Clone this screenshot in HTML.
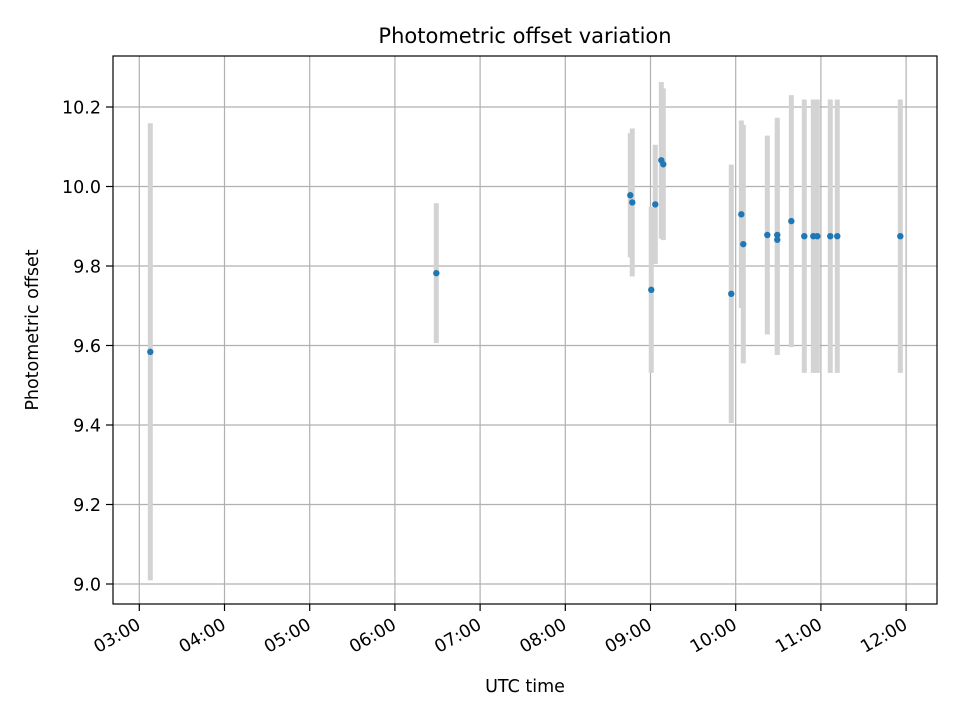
<!DOCTYPE html>
<html><head><meta charset="utf-8"><style>
body{margin:0;background:#fff}
svg{display:block;font-family:"DejaVu Sans","Liberation Sans",sans-serif}
</style></head><body>
<svg id="chart" width="960" height="720" viewBox="0 0 960 720">
<rect width="960" height="720" fill="#fff"/>
<text x="525" y="43" text-anchor="middle" font-size="21">Photometric offset variation</text>
<text x="525" y="692" text-anchor="middle" font-size="17.5">UTC time</text>
<text transform="translate(38,330) rotate(-90)" text-anchor="middle" font-size="17.5">Photometric offset</text>
<g id="grid"></g><g id="bars"></g><g id="dots"></g><g id="axes"></g>
</svg>
<script>
const times = [3.129,6.486,8.763,8.786,9.009,9.056,9.127,9.150,9.948,10.066,10.089,10.371,10.488,10.488,10.653,10.805,10.911,10.958,11.110,11.192,11.932];
const values = [9.584,9.782,9.978,9.960,9.740,9.955,10.066,10.056,9.730,9.930,9.855,9.878,9.878,9.866,9.913,9.875,9.875,9.875,9.875,9.875,9.875];
const errors = [0.575,0.176,0.156,0.186,0.209,0.150,0.197,0.191,0.325,0.236,0.300,0.250,0.295,0.290,0.317,0.344,0.344,0.344,0.344,0.344,0.344];
const xTicks = [3,4,5,6,7,8,9,10,11,12];
const xTickLabels = ["03:00","04:00","05:00","06:00","07:00","08:00","09:00","10:00","11:00","12:00"];
const yTicks = [9.0,9.2,9.4,9.6,9.8,10.0,10.2];
const yTickLabels = ["9.0","9.2","9.4","9.6","9.8","10.0","10.2"];

const L=113,R=937,T=56,B=604;
const xs=h=>139.3+(h-3)*85.2;
const ys=v=>584-(v-9.0)*397.5;
const NS="http://www.w3.org/2000/svg";
function mk(tag,attrs,parent,txt){const e=document.createElementNS(NS,tag);for(const k in attrs)e.setAttribute(k,attrs[k]);if(txt!==undefined)e.textContent=txt;parent.appendChild(e);return e;}
const grid=document.getElementById('grid'),bars=document.getElementById('bars'),dots=document.getElementById('dots'),axes=document.getElementById('axes');
xTicks.forEach((t,i)=>{
  const x=xs(t);
  const g=mk('line',{x1:x,x2:x,y1:T,y2:B,stroke:'#b0b0b0','stroke-width':1.2},grid);
  
  
  const tk=mk('line',{x1:x,x2:x,y1:B,y2:B+7,stroke:'#000','stroke-width':1.2},axes);
  
  
  const lb=mk('text',{transform:`translate(${x-5},615) rotate(-30)`,'text-anchor':'end',y:15,'font-size':17.5},axes,xTickLabels[i]);
  
  
});
yTicks.forEach((t,i)=>{
  const y=ys(t);
  const g=mk('line',{x1:L,x2:R,y1:y,y2:y,stroke:'#b0b0b0','stroke-width':1.2},grid);
  
  
  const tk=mk('line',{x1:L-7,x2:L,y1:y,y2:y,stroke:'#000','stroke-width':1.2},axes);
  
  
  const lb=mk('text',{x:L-12,y:y+6.5,'text-anchor':'end','font-size':17.5},axes,yTickLabels[i]);
  
  
});
times.forEach((t,i)=>{
  const x=xs(t);
  const b=mk('line',{x1:x,x2:x,y1:ys(values[i]+errors[i]),y2:ys(values[i]-errors[i]),stroke:'#d3d3d3','stroke-width':5},bars);
  
  
});
times.forEach((t,i)=>{
  const c=mk('circle',{cx:xs(t),cy:ys(values[i]),r:3.2,fill:'#1f77b4'},dots);
  
  
});
const fr=mk('rect',{x:L,y:T,width:R-L,height:B-T,fill:'none',stroke:'#000','stroke-width':1.2},axes);


</script>
</body></html>
